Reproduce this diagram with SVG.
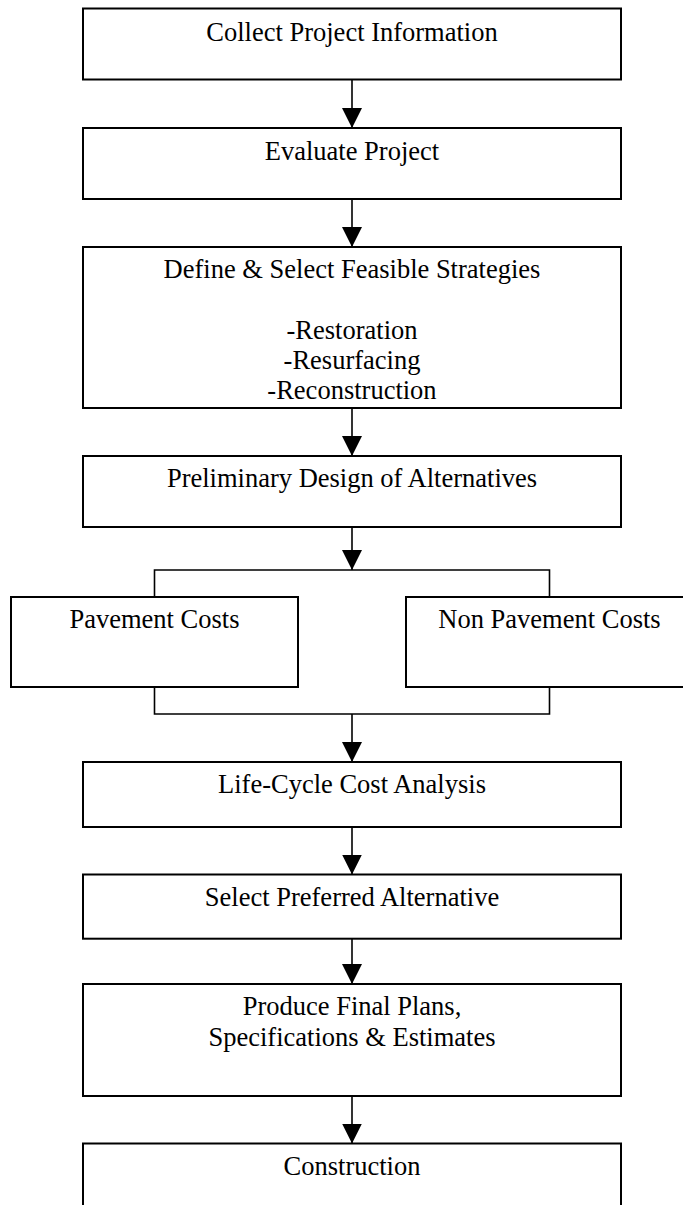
<svg xmlns="http://www.w3.org/2000/svg" width="683" height="1205" viewBox="0 0 683 1205">
<style>
.box{fill:#fff;stroke:#000;stroke-width:2}
.lbl{font-family:"Liberation Serif","Times New Roman",serif;font-size:26.5px;fill:#000;text-anchor:middle}
.con{fill:none;stroke:#000;stroke-width:1.6}
</style>
<defs>
<marker id="arr" markerUnits="userSpaceOnUse" markerWidth="20" markerHeight="20" refX="20" refY="10" orient="auto" viewBox="0 0 20 20">
<path d="M0,0 L20,10 L0,20 Z" fill="#000"/>
</marker>
</defs>
<rect width="683" height="1205" fill="#fff"/>
<g id="connectors">
<line class="con" x1="352" y1="79.5" x2="352" y2="128" marker-end="url(#arr)"/>
<line class="con" x1="352" y1="199" x2="352" y2="247" marker-end="url(#arr)"/>
<line class="con" x1="352" y1="408" x2="352" y2="456" marker-end="url(#arr)"/>
<line class="con" x1="352" y1="527" x2="352" y2="570" marker-end="url(#arr)"/>
<polyline class="con" points="154.5,597 154.5,570 549.5,570 549.5,597"/>
<polyline class="con" points="154.5,687 154.5,714 549.5,714 549.5,687"/>
<line class="con" x1="352" y1="714" x2="352" y2="762" marker-end="url(#arr)"/>
<line class="con" x1="352" y1="827" x2="352" y2="874.5" marker-end="url(#arr)"/>
<line class="con" x1="352" y1="938.7" x2="352" y2="984" marker-end="url(#arr)"/>
<line class="con" x1="352" y1="1096" x2="352" y2="1143.5" marker-end="url(#arr)"/>
</g>
<g id="collect">
<rect class="box" x="83" y="8.5" width="538" height="71"/>
<text class="lbl" x="352" y="40.5">Collect Project Information</text>
</g>
<g id="evaluate">
<rect class="box" x="83" y="128" width="538" height="71"/>
<text class="lbl" x="352" y="159.5">Evaluate Project</text>
</g>
<g id="define">
<rect class="box" x="83" y="247" width="538" height="161"/>
<text class="lbl" x="352" y="277.5">Define &amp; Select Feasible Strategies</text>
<text class="lbl" x="352" y="339">-Restoration</text>
<text class="lbl" x="352" y="369">-Resurfacing</text>
<text class="lbl" x="352" y="399">-Reconstruction</text>
</g>
<g id="preliminary">
<rect class="box" x="83" y="456" width="538" height="71"/>
<text class="lbl" x="352" y="486.7">Preliminary Design of Alternatives</text>
</g>
<g id="pavement">
<rect class="box" x="11" y="597" width="287" height="90"/>
<text class="lbl" x="154.5" y="628">Pavement Costs</text>
</g>
<g id="nonpavement">
<rect class="box" x="406" y="597" width="287" height="90"/>
<text class="lbl" x="549.5" y="628">Non Pavement Costs</text>
</g>
<g id="lifecycle">
<rect class="box" x="83" y="762" width="538" height="65"/>
<text class="lbl" x="352" y="793.3">Life-Cycle Cost Analysis</text>
</g>
<g id="select">
<rect class="box" x="83" y="874.5" width="538" height="64.2"/>
<text class="lbl" x="352" y="906">Select Preferred Alternative</text>
</g>
<g id="produce">
<rect class="box" x="83" y="984" width="538" height="112"/>
<text class="lbl" x="352" y="1015">Produce Final Plans,</text>
<text class="lbl" x="352" y="1046">Specifications &amp; Estimates</text>
</g>
<g id="construction">
<rect class="box" x="83" y="1143.5" width="538" height="80"/>
<text class="lbl" x="352" y="1175">Construction</text>
</g>
</svg>
